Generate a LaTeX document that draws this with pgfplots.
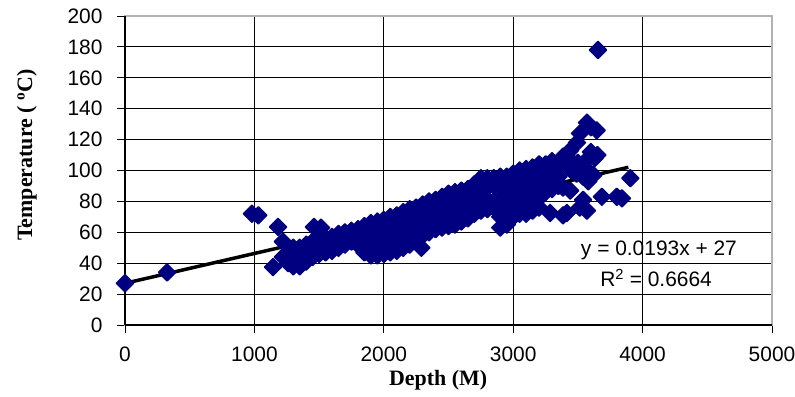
\documentclass[border=0pt]{standalone}
\usepackage{pgfplots}
\pgfplotsset{compat=1.18}
\usepackage{fontspec}
\setmainfont{Liberation Sans}
\newfontfamily\serifb{Liberation Serif}
\definecolor{navyx}{RGB}{0,0,128}
\begin{document}
\begin{tikzpicture}[x=1bp,y=1bp]
\begin{axis}[
  scale only axis, width=647bp, height=309bp,
  xmin=0, xmax=5000, ymin=0, ymax=200,
  xtick={0,1000,2000,3000,4000,5000},
  ytick={0,20,40,60,80,100,120,140,160,180,200},
  xtick pos=lower, ytick pos=left,
  grid=major, major grid style={black, line width=0.9bp},
  axis line style={draw=gray!60, line width=1.6bp},
  tick align=outside, major tick length=8bp,
  tick style={black, line width=0.9bp},
  ticklabel style={font=\fontsize{21}{21}\selectfont},
  xticklabel style={yshift=-10bp},
  yticklabel style={xshift=-11bp},
  /pgf/number format/assume math mode=true,
  /pgf/number format/1000 sep={},
  xlabel={Depth (M)},
  ylabel={Temperature ( \textsuperscript{o}C)},
  xlabel style={font=\serifb\bfseries\fontsize{22}{22}\selectfont, at={(axis description cs:0.484,-0.178)}, anchor=center},
  ylabel style={font=\serifb\bfseries\fontsize{22}{22}\selectfont, at={(axis description cs:-0.1515,0.55)}, anchor=center},
  clip=false,
]
\addplot[only marks, mark=square*, mark size=6bp, mark options={rotate=45, fill=navyx, draw=navyx, line join=round, line width=1.5bp}] coordinates {
(0,27) (325,34) (980,72) (1030,71) (1183,63.5) (1460,63.5) (1515,63) (1144,37.5)
(1220,54) (1220,44)
(1260,40) (1260,46)
(1300,38) (1300,44) (1300,50)
(1350,38) (1350,44) (1350,50)
(1400,41) (1400,47) (1400,52)
(1450,44) (1450,50) (1450,54)
(1500,46) (1500,51) (1500,55)
(1550,47) (1550,52) (1550,56)
(1600,48) (1600,53) (1600,57)
(1650,50) (1650,55) (1650,59)
(1700,52) (1700,57) (1700,60)
(1750,54) (1750,58) (1750,61)
(1800,52) (1800,57) (1800,62)
(1850,47) (1850,53) (1850,59) (1850,64)
(1900,45) (1900,51) (1900,57) (1900,63) (1900,66)
(1950,45) (1950,51) (1950,57) (1950,63) (1950,67)
(2000,46) (2000,52) (2000,58) (2000,64) (2000,68)
(2050,47) (2050,53) (2050,59) (2050,65) (2050,70)
(2100,48) (2100,54) (2100,60) (2100,66) (2100,71)
(2150,50) (2150,56) (2150,62) (2150,68) (2150,73)
(2200,52) (2200,58) (2200,64) (2200,70) (2200,75)
(2250,55) (2250,61) (2250,67) (2250,72) (2250,76)
(2290,50)
(2300,58) (2300,64) (2300,70) (2300,75) (2300,78)
(2350,60) (2350,66) (2350,72) (2350,77) (2350,80)
(2400,62) (2400,68) (2400,74) (2400,79) (2400,81)
(2450,63) (2450,69) (2450,75) (2450,80) (2450,83)
(2500,64) (2500,70) (2500,76) (2500,81) (2500,85)
(2550,65) (2550,71) (2550,77) (2550,82) (2550,86)
(2600,67) (2600,73) (2600,79) (2600,84) (2600,87)
(2650,69) (2650,75) (2650,81) (2650,86) (2650,88)
(2700,72) (2700,78) (2700,84) (2700,89) (2700,91)
(2750,74) (2750,80) (2750,86) (2750,92) (2750,95)
(2800,75) (2800,81) (2800,89) (2800,95)
(2850,76) (2850,80) (2850,90) (2850,95)
(2900,63) (2900,70) (2900,76) (2900,82) (2900,90) (2900,96)
(2950,65) (2950,71) (2950,78) (2950,84) (2950,90) (2950,96)
(3000,70) (3000,76) (3000,82) (3000,88) (3000,94) (3000,98)
(3050,72) (3050,78) (3050,84) (3050,90) (3050,96) (3050,100)
(3100,72) (3100,78) (3100,84) (3100,90) (3100,96) (3100,101)
(3150,74) (3150,80) (3150,86) (3150,92) (3150,98) (3150,102)
(3200,76) (3200,82) (3200,88) (3200,94) (3200,100) (3200,104)
(3250,86) (3250,92) (3250,98) (3250,104)
(3300,88) (3300,94) (3300,100) (3300,106)
(3350,90) (3350,96) (3350,104)
(3285,72.5) (3385,71) (3415,72.5)
(3385,109) (3415,105) (3440,113) (3493,118) (3516,124) (3570,131) (3600,128) (3645,126)
(3450,100) (3450,106) (3500,105) (3550,102) (3600,112) (3650,110)
(3570,107) (3630,108) (3490,98) (3540,96) (3620,97) (3580,93)
(3440,87) (3385,89) (3540,81) (3570,74) (3515,76)
(3685,83) (3800,83) (3840,82) (3905,95) (3655,178)
};
\addplot[black, line width=3.5bp] coordinates {(0,27) (3890,102.08)};
\draw[black, line width=2bp] (rel axis cs:0,0) -- (rel axis cs:0,1);
\draw[black, line width=1.2bp] (rel axis cs:0,0) -- (rel axis cs:1,0);
\node[anchor=east, font=\fontsize{21}{21}\selectfont, inner sep=0pt] at (axis cs:4730,48.5) {y = 0.0193x + 27};
\node[font=\fontsize{21}{21}\selectfont, inner sep=0pt] at (axis cs:4104,30.4) {R\textsuperscript{2} = 0.6664};
\coordinate (SW) at (rel axis cs:0,0);
\end{axis}
\pgfresetboundingbox
\path (SW) ++(-125,-71) rectangle ++(795,396);
\end{tikzpicture}
\end{document}
